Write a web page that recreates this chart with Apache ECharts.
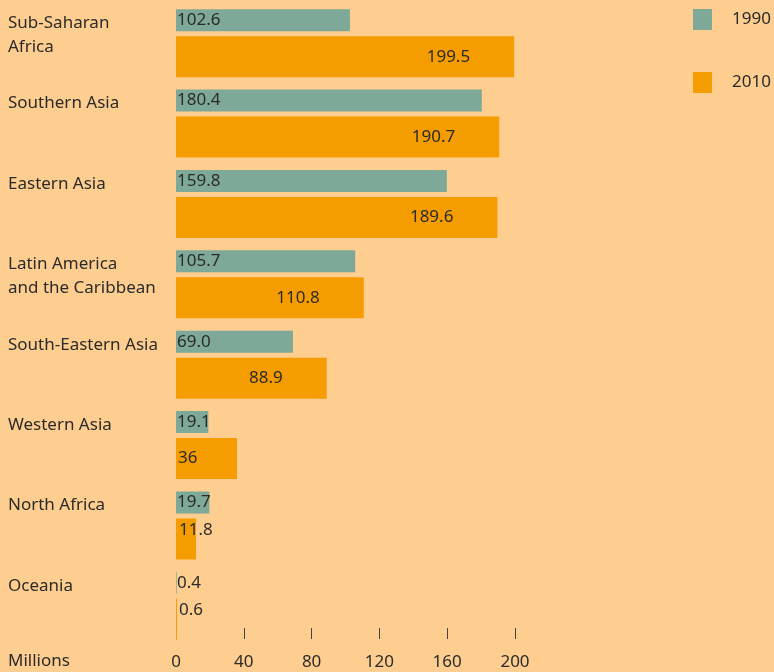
<!DOCTYPE html>
<html>
<head>
<meta charset="utf-8">
<title>Chart</title>
<script src="https://cdn.jsdelivr.net/npm/echarts@6/dist/echarts.min.js"></script>
<style>
  html, body { margin: 0; padding: 0; background: #fdce8f; }
  #chart { width: 774px; height: 672px; }
</style>
</head>
<body>
<div id="chart"></div>
<script>
// regions, top to bottom
const regions = [
  'Sub-Saharan\nAfrica',
  'Southern Asia',
  'Eastern Asia',
  'Latin America\nand the Caribbean',
  'South-Eastern Asia',
  'Western Asia',
  'North Africa',
  'Oceania'
];
const values1990 = [102.6, 180.4, 159.8, 105.7, 69.0, 19.1, 19.7, 0.4];
const values2010 = [199.5, 190.7, 189.6, 110.8, 88.9, 36, 11.8, 0.6];
const xTicks = [0, 40, 80, 120, 160, 200];

const font = 'Noto Sans';
const textColor = '#2b2b2b';

const chart = echarts.init(document.getElementById('chart'));

// big bars get the label near the end, small ones at the start
const data2010 = values2010.map(function (v) {
  let label;
  if (v > 50) label = { position: 'insideRight', distance: 44 };
  else if (v > 20) label = { position: 'insideLeft', distance: 2 };
  else label = { position: 'insideTopLeft', distance: 3 };
  return { value: v, label: label };
});

chart.setOption({
  backgroundColor: '#fdce8f',
  animation: false,
  textStyle: { fontFamily: font },
  grid: { left: 176, right: 259, top: 3, bottom: 26 },
  legend: {
    orient: 'vertical',
    left: 688,
    top: 4,
    itemWidth: 19,
    itemHeight: 21,
    itemGap: 42,
    icon: 'rect',
    data: ['1990', '2010'],
    textStyle: { fontFamily: font, fontSize: 17, color: textColor, padding: [0, 0, 0, 15] }
  },
  xAxis: {
    type: 'value',
    min: 0,
    max: 200,
    interval: 40,
    position: 'bottom',
    offset: -18,
    axisLine: { show: false },
    splitLine: { show: false },
    axisTick: { show: true, length: 11, lineStyle: { color: '#444', width: 1 } },
    axisLabel: {
      margin: 26,
      fontFamily: font,
      fontSize: 17,
      color: textColor,
      formatter: function (v) { return xTicks.indexOf(v) >= 0 ? String(v) : ''; }
    }
  },
  yAxis: {
    type: 'category',
    inverse: true,
    data: regions,
    axisLine: { show: false },
    axisTick: { show: false },
    axisLabel: {
      interval: 0,
      align: 'left',
      margin: 168,
      verticalAlign: 'top',
      padding: [-32, 0, 0, 0],
      lineHeight: 24,
      fontFamily: font,
      fontSize: 17,
      color: textColor
    }
  },
  graphic: [{
    type: 'text',
    left: 8,
    top: 653,
    style: { text: 'Millions', fontFamily: font, fontSize: 17, fill: textColor }
  }],
  series: [
    {
      name: '1990',
      type: 'bar',
      barWidth: 22,
      barGap: '23%',
      itemStyle: { color: '#7ea897' },
      label: {
        show: true,
        position: 'insideLeft',
        distance: 1,
        fontFamily: font,
        fontSize: 17,
        color: textColor,
        formatter: function (p) { return p.value.toFixed(1); }
      },
      data: values1990
    },
    {
      name: '2010',
      type: 'bar',
      barWidth: 41,
      itemStyle: { color: '#f59c00' },
      label: {
        show: true,
        fontFamily: font,
        fontSize: 17,
        color: textColor
      },
      data: data2010
    }
  ]
});
</script>
</body>
</html>
